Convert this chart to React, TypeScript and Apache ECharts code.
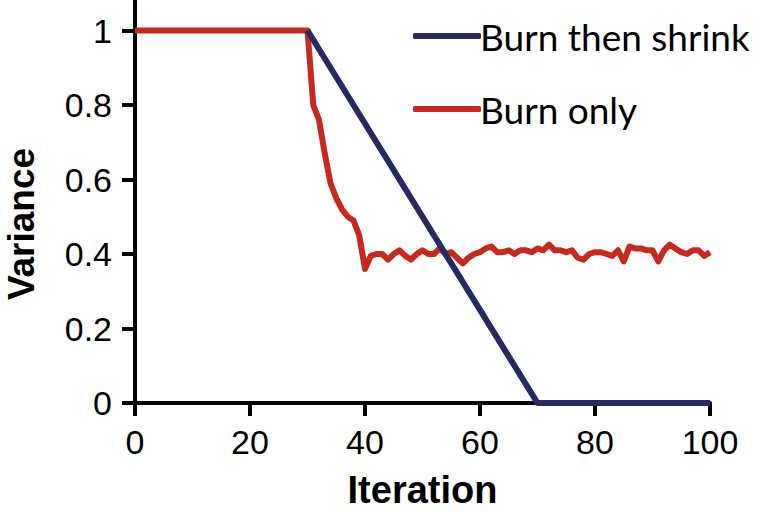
import React, { useEffect, useRef } from "react";
import * as echarts from "echarts";

const xTicks = [0, 20, 40, 60, 80, 100];
const yTicks = [0, 0.2, 0.4, 0.6, 0.8, 1];

const burnOnlyX = Array.from({ length: 101 }, (_, i) => i);
const burnOnly = [
  1, 1, 1, 1, 1, 1, 1, 1, 1, 1,
  1, 1, 1, 1, 1, 1, 1, 1, 1, 1,
  1, 1, 1, 1, 1, 1, 1, 1, 1, 1,
  1, 0.8, 0.76, 0.67, 0.59, 0.55, 0.52, 0.5, 0.49, 0.45,
  0.36, 0.395, 0.4, 0.4, 0.385, 0.4, 0.41, 0.395, 0.385, 0.4,
  0.41, 0.4, 0.4, 0.415, 0.4, 0.405, 0.39, 0.375, 0.39, 0.4,
  0.405, 0.415, 0.42, 0.405, 0.405, 0.41, 0.4, 0.41, 0.41, 0.405,
  0.415, 0.41, 0.425, 0.41, 0.41, 0.405, 0.41, 0.39, 0.385, 0.4,
  0.405, 0.405, 0.4, 0.395, 0.41, 0.38, 0.42, 0.415, 0.415, 0.41,
  0.41, 0.38, 0.41, 0.425, 0.415, 0.405, 0.4, 0.41, 0.41, 0.395,
  0.405,
];

const burnShrinkX = [30, 70, 100];
const burnShrink = [1, 0, 0];

const BLUE = "#252a62";
const RED = "#c8291f";

export default function App() {
  const ref = useRef<HTMLDivElement>(null);
  useEffect(() => {
    if (!ref.current) return;
    const chart = echarts.init(ref.current, null, { renderer: "svg" });
    chart.setOption({
      animation: false,
      backgroundColor: "#ffffff",
      grid: {
        left: 135,
        right: 57,
        top: 0,
        bottom: 108,
        containLabel: false,
        outerBoundsMode: "none",
      },
      legend: {
        orient: "vertical",
        left: 408,
        top: 11,
        icon: "roundRect",
        itemWidth: 68,
        itemHeight: 6,
        itemGap: 33,
        data: ["Burn then shrink", "Burn only"],
        textStyle: {
          fontFamily: "Lato, 'Liberation Sans', Arial, sans-serif",
          fontSize: 37,
          color: "#000",
          lineHeight: 40,
          padding: [0, 0, 0, -6],
        },
      },
      xAxis: {
        type: "value",
        min: 0,
        max: 100,
        interval: 20,
        name: "Iteration",
        nameLocation: "middle",
        nameGap: 68,
        nameTextStyle: {
          fontFamily: "'Liberation Sans', Arial, sans-serif",
          fontWeight: "bold",
          fontSize: 38,
          lineHeight: 38,
          color: "#000",
        },
        axisLine: { show: true, lineStyle: { color: "#000", width: 4 } },
        axisTick: { show: true, length: 13, lineStyle: { color: "#000", width: 4 }, customValues: xTicks },
        axisLabel: {
          margin: 22,
          fontFamily: "'Liberation Sans', Arial, sans-serif",
          fontSize: 34,
          color: "#000",
          customValues: xTicks,
        },
        splitLine: { show: false },
      },
      yAxis: {
        type: "value",
        min: 0,
        max: 1.082,
        axisLine: { show: true, lineStyle: { color: "#000", width: 4 } },
        axisTick: { show: true, length: 13, lineStyle: { color: "#000", width: 4 }, customValues: yTicks },
        axisLabel: {
          margin: 23,
          fontFamily: "'Liberation Sans', Arial, sans-serif",
          fontSize: 34,
          color: "#000",
          customValues: yTicks,
          formatter: (v: number) => String(Math.round(v * 10) / 10),
        },
        splitLine: { show: false },
      },
      graphic: [
        {
          type: "text",
          x: 21,
          y: 224,
          rotation: Math.PI / 2,
          style: {
            text: "Variance",
            font: "bold 37px 'Liberation Sans', Arial, sans-serif",
            fill: "#000",
            align: "center",
            verticalAlign: "middle",
          },
        },
      ],
      series: [
        {
          name: "Burn only",
          type: "line",
          data: burnOnlyX.map((x, i) => [x, burnOnly[i]]),
          showSymbol: false,
          symbol: "none",
          clip: false,
          lineStyle: { color: RED, width: 6, join: "round" },
          itemStyle: { color: RED },
          z: 2,
        },
        {
          name: "Burn then shrink",
          type: "line",
          data: burnShrinkX.map((x, i) => [x, burnShrink[i]]),
          showSymbol: false,
          symbol: "none",
          clip: false,
          lineStyle: { color: BLUE, width: 6, join: "round" },
          itemStyle: { color: BLUE },
          z: 3,
        },
      ],
    });
    return () => chart.dispose();
  }, []);
  return (
    <div
      ref={ref}
      style={{ position: "fixed", left: 0, top: 0, width: 767, height: 511, background: "#fff" }}
    />
  );
}
